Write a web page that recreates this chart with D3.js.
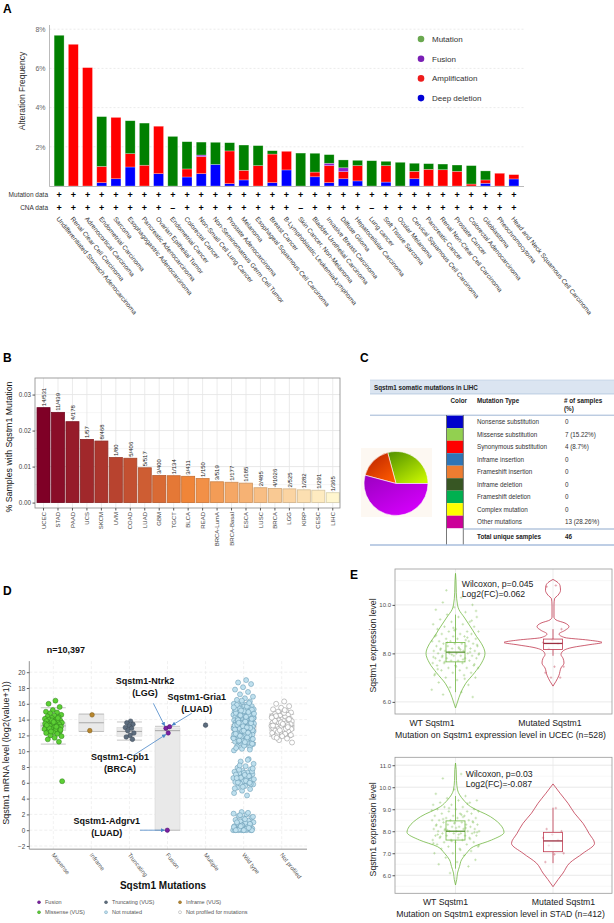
<!DOCTYPE html>
<html>
<head>
<meta charset="utf-8">
<script src="https://cdn.jsdelivr.net/npm/d3@7"></script>
<style>
  body { margin: 0; background: #fff; }
  svg { font-family: "Liberation Sans", Arial, Helvetica, sans-serif; }
</style>
</head>
<body>
<svg id="fig" width="614" height="923"></svg>
<script>
// ---------------- panel A data (alteration frequency, %) ----------------
const cancerTypes = ["Undifferentiated Stomach Adenocarcinoma","Renal Clear Cell Carcinoma","Adrenocortical Carcinoma",
  "Endometrial Carcinoma","Sarcoma","Esophagogastric Adenocarcinoma","Pancreatic Adenocarcinoma","Ovarian Epithelial Tumor",
  "Endometrial Cancer","Colorectal Cancer","Non-Small Cell Lung Cancer","Non-Seminomatous Germ Cell Tumor",
  "Prostate Adenocarcinoma","Melanoma","Esophageal Squamous Cell Carcinoma","Breast Cancer",
  "B-Lymphoblastic Leukemia/Lymphoma","Skin Cancer, Non-Melanoma","Bladder Urothelial Carcinoma",
  "Invasive Breast Carcinoma","Diffuse Glioma","Hepatocellular Carcinoma","Lung cancer","Soft Tissue Sarcoma",
  "Ocular Melanoma","Cervical Squamous Cell Carcinoma","Pancreatic Cancer","Renal Non-Clear Cell Carcinoma",
  "Prostate Cancer","Colorectal Adenocarcinoma","Glioblastoma","Pheochromocytoma","Head and Neck Squamous Cell Carcinoma"];
const deepDeletion = [0,0,0,0.17,0.37,0.97,0,0.63,0,0.46,0.63,1.10,0.12,0.31,0,0.17,0.82,0,0.47,0.17,0.37,0.26,0,0.20,0,0.37,0,0,0,0,0.14,0,0.36];
const amplification = [0,7.23,6.04,0.83,3.13,0.68,1.06,2.42,0,0.41,0.87,0,1.67,0.49,1.04,1.46,0.95,0,0.24,0.87,0.36,0.78,0,0.84,0,0.38,0.85,0.83,0.75,0.10,0.17,0.65,0.22];
const fusionFreq = [0,0,0,0,0,0,0,0,0,0,0.08,0,0,0,0,0,0,0,0,0.12,0.20,0,0,0,0,0,0,0,0,0,0,0,0];
const mutationFreq = [7.69,0,0,2.54,0,1.68,2.15,0,2.53,1.39,0.66,1.13,0.42,1.29,1.02,0.17,0,1.68,0.96,0.44,0.40,0.27,1.29,0.22,1.21,0.41,0.29,0.29,0.32,0.94,0.46,0,0];
const cnaProfiled = [1,1,1,1,1,1,1,1,0,1,1,1,1,1,1,1,1,0,1,1,1,1,0,1,1,1,1,1,1,1,1,1,1];
const freqTicks = [2,4,6,8];
const alterationTypes = ["Mutation","Fusion","Amplification","Deep deletion"];

// ---------------- panel B data ----------------
const tcgaCodes = ["UCEC","STAD","PAAD","UCS","SKCM","UVM","COAD","LUAD","GBM","TGCT","BLCA","READ","BRCA-LumA","BRCA-Basal","ESCA","LUSC","BRCA","LGG","KIRP","CESC","LIHC"];
const mutatedSamples = [14,11,4,1,8,1,5,5,3,1,3,1,3,1,1,2,4,2,1,1,1];
const totalSamples = [531,439,178,57,468,80,406,517,400,134,411,150,519,177,185,485,1026,525,282,291,365];
const fracTicks = [0,0.01,0.02,0.03];

// ---------------- panel C data ----------------
const mutTypes = ["Nonsense substitution","Missense substitution","Synonymous substitution","Inframe insertion",
  "Frameshift insertion","Inframe deletion","Frameshift deletion","Complex mutation","Other mutations"];
const mutTypeCounts = [0,7,4,0,0,0,0,0,13];
const mutTypeShare = ["","15.22%","8.7%","","","","","","28.26%"];
const totalUnique = 46;

// ---------------- panel D data ----------------
const mutCats = ["Missense","Inframe","Truncating","Fusion","Multiple","Wild type","Not profiled"];
const missenseVals = [16.4,16.0,15.6,15.2,15.0,14.9,14.8,14.6,14.5,14.4,14.3,14.2,14.1,14.0,14.0,13.9,13.8,13.8,13.7,13.6,13.6,13.5,13.4,13.4,13.3,13.3,13.2,13.2,13.1,13.0,13.0,12.9,12.8,12.8,12.7,12.6,12.5,12.4,12.3,12.2,12.0,11.9,11.7,11.5,11.2,
  13.9,13.5,13.1,12.9,12.7,13.7,13.3,14.2,12.5,6.2];
const inframeVals = [14.6,12.6];
const truncatingVals = [13.8,13.6,13.4,13.2,13.0,12.9,12.6,12.3,12.0,11.8,11.5];
const fusionVals = [12.3,12.9,13.1,0.0];
const fusionGenes = ["Sqstm1-Cpb1","Sqstm1-Ntrk2","Sqstm1-Gria1","Sqstm1-Adgrv1"];
const fusionCohorts = ["(BRCA)","(LGG)","(LUAD)","(LUAD)"];
const multipleVals = [13.3];
const wildTypeVals = [19.0,18.7,18.5,18.1,17.8,17.5,17.2,16.9,16.7,16.5,
  16.3,16.2,16.0,15.9,15.8,15.7,15.6,15.5,15.5,15.4,15.3,15.3,15.2,15.1,15.0,15.0,14.9,14.9,14.8,14.8,
  14.7,14.7,14.6,14.6,14.5,14.5,14.4,14.4,14.3,14.3,14.2,14.2,14.1,14.1,14.0,14.0,13.9,13.9,13.8,13.8,
  13.7,13.7,13.6,13.6,13.5,13.5,13.4,13.4,13.3,13.3,13.2,13.2,13.1,13.1,13.0,13.0,12.9,12.9,12.8,12.8,
  12.7,12.7,12.6,12.6,12.5,12.5,12.4,12.4,12.3,12.3,12.2,12.2,12.1,12.1,12.0,12.0,11.9,11.8,11.7,11.6,
  11.5,11.4,11.3,11.2,11.1,11.0,10.9,10.8,10.6,10.5,10.3,10.1,
  15.65,15.45,15.25,15.05,14.85,14.65,14.45,14.25,14.05,13.85,13.65,13.45,13.25,13.05,12.85,12.65,12.45,12.25,12.05,11.85,
  11.65,11.45,11.25,11.05,10.85,15.35,14.95,14.55,14.15,13.75,13.35,12.95,12.55,12.15,11.75,11.35,10.95,10.7,10.4,16.1,
  15.15,14.75,14.35,13.95,13.55,13.15,12.75,12.35,11.95,11.55,11.15,15.85,10.2,16.4,15.55,13.0,13.6,14.1,12.6,12.2,
  9.0,8.7,8.4,8.1,7.9,7.7,7.5,7.4,7.3,7.2,7.1,7.0,6.9,6.8,6.7,6.6,6.5,6.4,6.3,6.2,6.1,6.0,5.9,5.8,5.6,5.4,5.2,5.0,4.7,4.4,
  7.65,7.45,7.25,7.05,6.85,6.65,6.45,6.25,6.05,5.85,5.5,5.3,8.9,8.2,7.8,7.0,6.6,6.0,
  2.3,2.1,2.0,1.8,1.6,1.5,1.3,1.2,1.1,1.0,0.9,0.8,0.7,0.6,0.5,0.4,0.3,0.2,0.15,0.1,0.05,0,0,0,0,0,0,0,
  2.2,1.9,1.7,1.4,1.0,0.8,0.6,0.4,0.2,0.1,0,0,0,0.3,0.5];
const notProfiledVals = [16.3,16.0,15.7,15.5,15.3,15.1,15.0,14.9,14.8,14.7,14.6,14.5,14.4,14.3,14.2,14.1,14.0,14.0,13.9,13.9,
  13.8,13.8,13.7,13.7,13.6,13.6,13.5,13.5,13.4,13.4,13.3,13.3,13.2,13.2,13.1,13.1,13.0,13.0,12.9,12.9,
  12.8,12.8,12.7,12.6,12.5,12.4,12.3,12.2,12.1,12.0,11.9,11.8,11.6,11.4,11.1,
  14.85,14.45,14.05,13.65,13.25,12.85,12.45,12.05,13.45,13.85,13.05,12.65,14.25,15.2,11.7];
const boxCats = ["Missense","Inframe","Truncating","Fusion","Wild type","Not profiled"];
const boxLo  = [10.9,12.5,11.4,0,11.1,11.9];
const boxQ1  = [12.6,12.5,11.9,0,12.6,12.6];
const boxMed = [13.2,13.6,12.5,12.6,13.1,13.2];
const boxQ3  = [13.6,14.7,13.0,12.95,13.4,13.6];
const boxHi  = [15.5,14.7,13.7,13.15,15.4,14.7];
const mrnaTicks = [-2,0,2,4,6,8,10,12,14,16,18,20];
const legendD = ["Fusion","Truncating (VUS)","Inframe (VUS)","Missense (VUS)","Not mutated","Not profiled for mutations"];

// ---------------- panel E data ----------------
const exprGroups = ["WT Sqstm1","Mutated Sqstm1"];
// UCEC
const ucecWtLevels  = [5.75,6.0,6.35,6.75,7.2,7.6,8.0,8.4,8.7,9.0,9.5,9.8,10.0,10.5,11.0,11.3];
const ucecWtDensity = [0,0.04,0.10,0.20,0.38,0.52,0.59,0.52,0.42,0.33,0.17,0.07,0.04,0.016,0.01,0];
const ucecMutLevels  = [6.65,6.85,7.1,7.4,7.6,7.8,7.95,8.1,8.25,8.35,8.45,8.55,8.65,8.8,8.95,9.1,9.25,9.38,9.5,10.0,10.25,10.4,10.6,10.8,10.95,11.05];
const ucecMutDensity = [0,0.06,0.12,0.16,0.22,0.20,0.16,0.20,0.40,0.70,0.98,0.70,0.24,0.12,0.24,0.32,0.24,0.06,0.02,0.02,0.03,0.10,0.15,0.14,0.08,0];
const ucecWtPts = [10.3,10.1,10.0,9.9,9.8,9.7,9.6,9.5,9.5,9.4,9.3,9.3,9.2,9.2,9.1,9.1,9.0,9.0,8.9,8.9,8.9,8.8,8.8,8.8,8.7,8.7,8.7,
  8.6,8.6,8.6,8.5,8.5,8.5,8.5,8.4,8.4,8.4,8.4,8.3,8.3,8.3,8.3,8.2,8.2,8.2,8.2,8.1,8.1,8.1,8.1,8.0,8.0,8.0,8.0,8.0,
  7.9,7.9,7.9,7.9,7.8,7.8,7.8,7.8,7.7,7.7,7.7,7.7,7.6,7.6,7.6,7.5,7.5,7.5,7.4,7.4,7.4,7.3,7.3,7.2,7.2,7.1,7.1,7.0,7.0,
  6.9,6.8,6.7,6.6,6.5,6.4,6.3,6.2,
  8.95,8.75,8.55,8.45,8.35,8.25,8.15,8.05,7.95,7.85,7.75,7.65,7.55,7.45,7.35,8.65,8.05,7.95,8.15,7.85,9.35,9.05,7.15,6.95,10.6,9.75];
const ucecMutPts = [10.8,10.75,9.0,8.55,8.45,8.4,8.2,7.45,7.45,7.2,7.0,7.0];
const ucecBox = {wt: [6.4,7.65,8.05,8.45,9.6], mut: [7.9,8.16,8.41,8.59,9.0]};
// STAD
const stadWtLevels  = [5.56,5.8,6.1,6.4,6.7,7.0,7.3,7.6,7.95,8.2,8.66,9.12,9.42,9.88,10.3,10.8,11.1];
const stadWtDensity = [0,0.024,0.04,0.08,0.12,0.22,0.36,0.72,0.97,0.93,0.70,0.30,0.16,0.04,0.02,0.014,0];
const stadMutLevels  = [5.48,5.8,6.1,6.55,7.0,7.45,7.9,8.36,8.82,9.27,9.73,10.0,10.15];
const stadMutDensity = [0,0.10,0.20,0.33,0.60,0.83,0.72,0.60,0.43,0.30,0.14,0.05,0];
const stadWtPts = [10.6,10.4,10.2,9.9,9.7,9.6,9.5,9.4,9.4,9.3,9.3,9.2,9.2,9.1,9.1,9.0,9.0,9.0,8.9,8.9,8.9,8.8,8.8,8.8,8.7,8.7,8.7,
  8.6,8.6,8.6,8.5,8.5,8.5,8.5,8.4,8.4,8.4,8.4,8.3,8.3,8.3,8.3,8.2,8.2,8.2,8.2,8.1,8.1,8.1,8.1,8.0,8.0,8.0,8.0,8.0,
  7.9,7.9,7.9,7.9,7.8,7.8,7.8,7.8,7.7,7.7,7.7,7.6,7.6,7.6,7.5,7.5,7.5,7.4,7.4,7.3,7.3,7.2,7.2,7.1,7.0,7.0,
  6.9,6.8,6.7,6.6,6.5,6.4,6.1,
  8.95,8.75,8.55,8.45,8.35,8.25,8.15,8.05,7.95,7.85,7.75,7.65,7.55,7.45,8.65,8.05,7.95,8.15,7.85,9.25,9.05,7.35,7.15];
const stadMutPts = [9.05,8.1,8.0,7.85,7.7,7.6,7.35,7.0,6.95,6.6];
const stadBox = {wt: [6.3,7.6,8.0,8.47,9.6], mut: [6.55,7.07,7.56,7.95,9.07]};

// ================================================================
const svg = d3.select("#fig");
const defs = svg.append("defs");

// deterministic jitter spread (layout only)
const jitter = (i, w) => (((i + 1) * 0.6180339887) % 1 - 0.5) * 2 * w;

function txt(g, x, y, s, size, o = {}) {
  const t = g.append("text").attr("x", x).attr("y", y).attr("font-size", size).attr("fill", o.fill || "#222").text(s);
  if (o.anchor) t.attr("text-anchor", o.anchor);
  if (o.bold) t.attr("font-weight", "bold");
  return t;
}

// panel letters
[["A",3,13],["B",3,362],["C",360,362],["D",3,595],["E",350,579]].forEach(d =>
  txt(svg, d[1], d[2], d[0], 12, {bold: true, fill: "#000"}));

// ---------------- Panel A ----------------
const gA = svg.append("g");
const xA = d3.scaleBand().domain(cancerTypes).range([52, 521]).paddingInner(0.3).paddingOuter(0.15);
const yA = d3.scaleLinear().domain([0, 8]).range([186, 29.2]);

gA.selectAll("line.grid").data(freqTicks).join("line")
  .attr("x1", 49.5).attr("x2", 524).attr("y1", d => yA(d)).attr("y2", d => yA(d))
  .attr("stroke", "#e2e2e2").attr("stroke-width", 0.7).attr("stroke-dasharray", "2,2");

const axA = gA.append("g").attr("transform", "translate(49.5,0)")
  .call(d3.axisLeft(yA).tickValues(freqTicks).tickFormat(d => d + "%").tickSize(0).tickPadding(4));
axA.select(".domain").remove();
axA.selectAll("text").attr("font-size", 7).attr("fill", "#666").attr("font-family", null);

const rowsA = cancerTypes.map((c, i) => ({type: c, deep: deepDeletion[i], amp: amplification[i], fus: fusionFreq[i], mut: mutationFreq[i]}));
const seriesA = d3.stack().keys(["deep","amp","fus","mut"])(rowsA);
const colA = {deep: "#0000ff", amp: "#ff0000", fus: "#8d1fd1", mut: "#008000"};
gA.selectAll("g.layer").data(seriesA).join("g").attr("fill", d => colA[d.key])
  .selectAll("rect").data(d => d.filter(s => s[1] - s[0] > 0)).join("rect")
  .attr("x", d => xA(d.data.type)).attr("width", xA.bandwidth())
  .attr("y", d => yA(d[1])).attr("height", d => yA(d[0]) - yA(d[1]))
  .attr("stroke", "rgba(255,255,255,0.45)").attr("stroke-width", 0.6);

gA.append("line").attr("x1", 49.5).attr("x2", 49.5).attr("y1", 25).attr("y2", 186.5).attr("stroke", "#aaa").attr("stroke-width", 0.8);
gA.append("line").attr("x1", 49.5).attr("x2", 524).attr("y1", 186.5).attr("y2", 186.5).attr("stroke", "#aaa").attr("stroke-width", 0.8);

txt(gA, 0, 0, "Alteration Frequency", 8.5, {anchor: "middle", fill: "#333"}).attr("transform", "translate(25,91) rotate(-90)");

txt(gA, 48, 196.5, "Mutation data", 6.5, {anchor: "end", fill: "#333"});
txt(gA, 48, 210, "CNA data", 6.5, {anchor: "end", fill: "#333"});
gA.selectAll("text.mp").data(cancerTypes).join("text").attr("class", "mp")
  .attr("x", d => xA(d) + xA.bandwidth() / 2).attr("y", 197.5).attr("text-anchor", "middle")
  .attr("font-size", 9).attr("font-weight", "bold").text("+");
gA.selectAll("text.cp").data(cancerTypes).join("text").attr("class", "cp")
  .attr("x", d => xA(d) + xA.bandwidth() / 2).attr("y", 211).attr("text-anchor", "middle")
  .attr("font-size", 9).attr("font-weight", "bold").text((d, i) => cnaProfiled[i] ? "+" : "\u2013");

gA.selectAll("text.cat").data(cancerTypes).join("text").attr("class", "cat")
  .attr("transform", d => `translate(${xA(d) + xA.bandwidth() / 2 - 3},219) rotate(51)`)
  .attr("font-size", 6.5).attr("fill", "#333").text(d => d);

const legColA = ["#6aa84f","#7a1fb5","#ee1c1c","#0000d6"];
alterationTypes.forEach((t, i) => {
  const y = 39 + i * 19.7;
  gA.append("circle").attr("cx", 421).attr("cy", y).attr("r", 3.3).attr("fill", legColA[i]);
  txt(gA, 432, y + 2.8, t, 8, {fill: "#333"});
});

// ---------------- Panel B ----------------
const gB = svg.append("g");
const xB = d3.scaleBand().domain(tcgaCodes).range([36.3, 340]).paddingInner(0.1).paddingOuter(0.05);
const yB = d3.scaleLinear().domain([-0.0015, 0.0346]).range([508, 378]);
const fracB = mutatedSamples.map((m, i) => m / totalSamples[i]);
const colB = d3.scaleLinear().domain([0, 10, 20]).range(["#7f0026", "#f08538", "#fff6cf"]);

gB.selectAll("line.minor").data([0.005, 0.015, 0.025]).join("line")
  .attr("x1", 35).attr("x2", 340).attr("y1", d => yB(d)).attr("y2", d => yB(d)).attr("stroke", "#f0f0f0").attr("stroke-width", 0.6);
gB.selectAll("line.major").data(fracTicks).join("line")
  .attr("x1", 35).attr("x2", 340).attr("y1", d => yB(d)).attr("y2", d => yB(d)).attr("stroke", "#e3e3e3").attr("stroke-width", 0.8);
gB.selectAll("line.vg").data(tcgaCodes).join("line")
  .attr("x1", d => xB(d) + xB.bandwidth() / 2).attr("x2", d => xB(d) + xB.bandwidth() / 2)
  .attr("y1", 378).attr("y2", 508).attr("stroke", "#e6e6e6").attr("stroke-width", 0.8);

gB.selectAll("rect.bar").data(tcgaCodes).join("rect").attr("class", "bar")
  .attr("x", d => xB(d)).attr("width", xB.bandwidth())
  .attr("y", (d, i) => yB(fracB[i])).attr("height", (d, i) => yB(0) - yB(fracB[i]))
  .attr("fill", (d, i) => colB(i)).attr("stroke", (d, i) => d3.color(colB(i)).darker(0.5)).attr("stroke-width", 0.8);

gB.selectAll("text.val").data(tcgaCodes).join("text").attr("class", "val")
  .attr("transform", (d, i) => `translate(${xB(d) + xB.bandwidth() / 2 + 2.2},${yB(fracB[i]) - 1.5}) rotate(-90)`)
  .attr("font-size", 6).attr("fill", "#222").text((d, i) => mutatedSamples[i] + "/" + totalSamples[i]);

gB.append("rect").attr("x", 35).attr("y", 378).attr("width", 305).attr("height", 130)
  .attr("fill", "none").attr("stroke", "#888").attr("stroke-width", 0.8);

const axB = gB.append("g").attr("transform", "translate(35,0)")
  .call(d3.axisLeft(yB).tickValues(fracTicks).tickFormat(d3.format(".2f")).tickSize(2.5).tickPadding(1.5));
axB.select(".domain").remove();
axB.selectAll("line").attr("stroke", "#555");
axB.selectAll("text").attr("font-size", 6.3).attr("fill", "#444").attr("font-family", null);

const axBx = gB.append("g").attr("transform", "translate(0,508)")
  .call(d3.axisBottom(xB).tickSize(2.5).tickPadding(1.5));
axBx.select(".domain").remove();
axBx.selectAll("line").attr("stroke", "#555");
axBx.selectAll("text").attr("font-size", 6).attr("fill", "#444").attr("font-family", null)
  .attr("transform", "rotate(-90)").attr("text-anchor", "end").attr("x", -4).attr("y", 0).attr("dy", "0.35em");

txt(gB, 0, 0, "% Samples with Sqstm1 Mutation", 8.8, {anchor: "middle", fill: "#111"}).attr("transform", "translate(11.5,447) rotate(-90)");

// ---------------- Panel C ----------------
const gC = svg.append("g");
const swatchColors = ["#0000cc","#92d050","#ff0000","#2e75b6","#ed7d31","#375623","#00b050","#ffff00","#cc0099"];
gC.append("rect").attr("x", 370).attr("y", 380).attr("width", 244).attr("height", 14).attr("fill", "#dbe5f1");
gC.append("line").attr("x1", 370).attr("x2", 614).attr("y1", 380).attr("y2", 380).attr("stroke", "#b8c9e0").attr("stroke-width", 0.6);
gC.append("line").attr("x1", 370).attr("x2", 614).attr("y1", 394).attr("y2", 394).attr("stroke", "#9fb6d4").attr("stroke-width", 0.6);
txt(gC, 374, 390, "Sqstm1 somatic mutations in LIHC", 6.3, {bold: true});
txt(gC, 450.5, 403, "Color", 6.3, {bold: true});
txt(gC, 477, 403, "Mutation Type", 6.3, {bold: true});
txt(gC, 564, 403, "# of samples", 6.3, {bold: true});
txt(gC, 564, 411, "(%)", 6.3, {bold: true});
gC.append("line").attr("x1", 370).attr("x2", 614).attr("y1", 415.2).attr("y2", 415.2).attr("stroke", "#9fb6d4").attr("stroke-width", 1);

const rowH = 12.5, row0 = 415.7;
const yRow = d3.scaleBand().domain(mutTypes).range([row0, row0 + rowH * mutTypes.length]);
gC.selectAll("rect.sw").data(mutTypes).join("rect").attr("class", "sw")
  .attr("x", 446.7).attr("y", d => yRow(d)).attr("width", 16.6).attr("height", yRow.bandwidth())
  .attr("fill", (d, i) => swatchColors[i]);
gC.selectAll("text.mt").data(mutTypes).join("text").attr("class", "mt")
  .attr("x", 477).attr("y", d => yRow(d) + rowH / 2 + 2.2).attr("font-size", 6.3).attr("fill", "#333").text(d => d);
gC.selectAll("text.mc").data(mutTypes).join("text").attr("class", "mc")
  .attr("x", 565).attr("y", d => yRow(d) + rowH / 2 + 2.2).attr("font-size", 6.3).attr("fill", "#333")
  .text((d, i) => mutTypeCounts[i] + (mutTypeShare[i] ? " (" + mutTypeShare[i] + ")" : ""));
gC.append("line").attr("x1", 446.5).attr("x2", 446.5).attr("y1", 415).attr("y2", 545).attr("stroke", "#555").attr("stroke-width", 0.8);
gC.append("line").attr("x1", 463.3).attr("x2", 463.3).attr("y1", 415).attr("y2", 545).attr("stroke", "#555").attr("stroke-width", 0.8);
gC.append("line").attr("x1", 463.3).attr("x2", 614).attr("y1", 529).attr("y2", 529).attr("stroke", "#8fa9cc").attr("stroke-width", 1);
txt(gC, 477, 538.5, "Total unique samples", 6.3, {bold: true});
txt(gC, 565, 538.5, String(totalUnique), 6.3, {bold: true});
gC.append("line").attr("x1", 370).attr("x2", 614).attr("y1", 545).attr("y2", 545).attr("stroke", "#a9bedc").attr("stroke-width", 1.4);

// pie
gC.append("rect").attr("x", 361).attr("y", 448).attr("width", 71).attr("height", 69).attr("fill", "#fdf8f2");
const pieGrad = [["gMis","#4f8f00","#c8f500"],["gSyn","#b52000","#ff5a00"],["gOth","#9a00c0","#d800ff"]];
pieGrad.forEach(g => {
  const lg = defs.append("linearGradient").attr("id", g[0]).attr("x1", 0).attr("y1", 0).attr("x2", 0.8).attr("y2", 1);
  lg.append("stop").attr("offset", "0%").attr("stop-color", g[1]);
  lg.append("stop").attr("offset", "100%").attr("stop-color", g[2]);
});
const pieFill = {"Missense substitution": "url(#gMis)", "Synonymous substitution": "url(#gSyn)", "Other mutations": "url(#gOth)"};
const pieData = mutTypes.map((t, i) => ({t, n: mutTypeCounts[i]})).filter(d => d.n > 0);
const pie = d3.pie().value(d => d.n).sort(null).startAngle(Math.PI / 2).endAngle(Math.PI / 2 - 2 * Math.PI);
const arcC = d3.arc().innerRadius(0).outerRadius(32);
gC.append("g").attr("transform", "translate(396,483.5)").selectAll("path").data(pie(pieData)).join("path")
  .attr("d", arcC).attr("fill", d => pieFill[d.data.t]).attr("stroke", "#fff").attr("stroke-width", 0.6);

// ---------------- Panel D ----------------
const gD = svg.append("g");
const yD = d3.scaleLinear().domain([-2, 20]).range([846, 672.2]);
const xD = d3.scalePoint().domain(mutCats).range([53.3, 281.7]);
const dTop = yD(21.4), dBot = yD(-2.4), dL = 29.3, dR = 307;

gD.selectAll("line.hg").data(mrnaTicks).join("line")
  .attr("x1", dL).attr("x2", dR).attr("y1", d => yD(d)).attr("y2", d => yD(d))
  .attr("stroke", "#e4e4e4").attr("stroke-width", 0.6).attr("stroke-dasharray", "3,2");
gD.selectAll("line.vg").data(mutCats).join("line")
  .attr("x1", d => xD(d)).attr("x2", d => xD(d)).attr("y1", dTop).attr("y2", dBot)
  .attr("stroke", "#e8e8e8").attr("stroke-width", 0.6).attr("stroke-dasharray", "3,2");

const boxW = 25;
boxCats.forEach((c, i) => {
  const cx = xD(c);
  gD.append("line").attr("x1", cx).attr("x2", cx).attr("y1", yD(boxLo[i])).attr("y2", yD(boxHi[i])).attr("stroke", "#cfcfcf").attr("stroke-width", 0.8);
  gD.append("rect").attr("x", cx - boxW / 2).attr("width", boxW).attr("y", yD(boxQ3[i])).attr("height", yD(boxQ1[i]) - yD(boxQ3[i]))
    .attr("fill", "#e9e9e9").attr("stroke", "#d6d6d6").attr("stroke-width", 0.6);
  [boxLo[i], boxHi[i]].forEach(v => gD.append("line").attr("x1", cx - boxW / 2).attr("x2", cx + boxW / 2)
    .attr("y1", yD(v)).attr("y2", yD(v)).attr("stroke", "#b5b5b5").attr("stroke-width", 0.8));
  gD.append("line").attr("x1", cx - boxW / 2).attr("x2", cx + boxW / 2).attr("y1", yD(boxMed[i])).attr("y2", yD(boxMed[i]))
    .attr("stroke", "#a8a8a8").attr("stroke-width", 1);
});

const ptStyle = {
  "Missense": {vals: missenseVals, fill: "#5cd034", stroke: "#2f7a1c", r: 2.5, w: 9},
  "Inframe": {vals: inframeVals, fill: "#b8862e", stroke: "#7a5a1a", r: 2.3, w: 3},
  "Truncating": {vals: truncatingVals, fill: "#5d6d7e", stroke: "#3a4654", r: 2.3, w: 5},
  "Fusion": {vals: fusionVals, fill: "#7b1fa2", stroke: "#4a0f66", r: 2.2, w: 3},
  "Multiple": {vals: multipleVals, fill: "#5d6d7e", stroke: "#3a4654", r: 2.3, w: 0},
  "Wild type": {vals: wildTypeVals, fill: "#bfe0ee", stroke: "#5f93ad", r: 2.5, w: 10.5},
  "Not profiled": {vals: notProfiledVals, fill: "#ffffff", stroke: "#8a8a8a", r: 2.5, w: 10.5}
};
const fusionPts = [];
mutCats.forEach(c => {
  const s = ptStyle[c];
  gD.append("g").selectAll("circle").data(s.vals).join("circle")
    .attr("cx", (d, i) => xD(c) + jitter(i, s.w)).attr("cy", d => yD(d)).attr("r", s.r)
    .attr("fill", s.fill).attr("stroke", s.stroke).attr("stroke-width", 0.5);
  if (c === "Fusion") s.vals.forEach((d, i) => fusionPts.push([xD(c) + jitter(i, s.w), yD(d)]));
});

// fusion call-outs (label anchor and arrow start are layout)
const fusionLabelPos = [[120, 759.5], [145, 683.5], [196.7, 699.5], [106.7, 824]];
const fusionArrowFrom = [[133.3, 755.5], [153.3, 703.3], [191.7, 713.3], [140, 830.2]];
defs.append("marker").attr("id", "arr").attr("viewBox", "0 0 10 10").attr("refX", 9).attr("refY", 5)
  .attr("markerWidth", 5).attr("markerHeight", 5).attr("orient", "auto")
  .append("path").attr("d", "M0,0L10,5L0,10z").attr("fill", "#4a86c8");
fusionGenes.forEach((g, i) => {
  const [px, py] = fusionPts[i];
  const [sx, sy] = fusionArrowFrom[i];
  const dx = px - sx, dy = py - sy, L = Math.hypot(dx, dy);
  gD.append("line").attr("x1", sx).attr("y1", sy).attr("x2", px - dx / L * 2.8).attr("y2", py - dy / L * 2.8)
    .attr("stroke", "#4a86c8").attr("stroke-width", 0.8).attr("marker-end", "url(#arr)");
  txt(gD, fusionLabelPos[i][0], fusionLabelPos[i][1], g, 9, {anchor: "middle", bold: true, fill: "#111"});
  txt(gD, fusionLabelPos[i][0], fusionLabelPos[i][1] + 12, fusionCohorts[i], 9, {anchor: "middle", bold: true, fill: "#111"});
});

gD.append("line").attr("x1", dL).attr("x2", dL).attr("y1", dTop).attr("y2", dBot).attr("stroke", "#777").attr("stroke-width", 0.8);
gD.append("line").attr("x1", dL).attr("x2", dR).attr("y1", dBot).attr("y2", dBot).attr("stroke", "#777").attr("stroke-width", 0.8);
const axD = gD.append("g").attr("transform", `translate(${dL},0)`)
  .call(d3.axisLeft(yD).tickValues(mrnaTicks).tickSize(2.5).tickPadding(1.5));
axD.select(".domain").remove();
axD.selectAll("line").attr("stroke", "#666");
axD.selectAll("text").attr("font-size", 6.3).attr("fill", "#444").attr("font-family", null);

gD.selectAll("text.xc").data(mutCats).join("text").attr("class", "xc")
  .attr("transform", d => `translate(${xD(d) - 2},855) rotate(52)`)
  .attr("font-size", 6).attr("fill", "#555").text(d => d);

txt(gD, 46.7, 653, "n=10,397", 9, {bold: true, fill: "#111"});
txt(gD, 163, 889, "Sqstm1 Mutations", 10, {anchor: "middle", bold: true, fill: "#111"});
txt(gD, 0, 0, "Sqstm1 mRNA level (log2(value+1))", 9, {anchor: "middle", fill: "#222"}).attr("transform", "translate(9,753) rotate(-90)");

const legStyleD = ["Fusion","Truncating","Inframe","Missense","Wild type","Not profiled"];
legendD.forEach((t, i) => {
  const col = i % 3, row = Math.floor(i / 3);
  const x = [39, 106, 180][col], y = 904 + row * 10;
  const s = ptStyle[legStyleD[i]];
  gD.append("circle").attr("cx", x).attr("cy", y - 1.8).attr("r", 1.5).attr("fill", s.fill).attr("stroke", s.stroke).attr("stroke-width", 0.4);
  txt(gD, x + 6, y, t, 5.5, {fill: "#555"});
});

// ---------------- Panel E ----------------
const wE = d3.scaleLinear().domain([0, 1]).range([0, 50]);
const xE = d3.scalePoint().domain(exprGroups).range([455.5, 553]);
const colE = {"WT Sqstm1": "#72b843", "Mutated Sqstm1": "#c0394f"};

function drawExpr(p) {
  const g = svg.append("g");
  const y = d3.scaleLinear().domain(p.yDomain).range([p.bottom, p.top]);
  const L = 395, R = 612;
  g.selectAll("line.mn").data(p.minor).join("line")
    .attr("x1", L).attr("x2", R).attr("y1", d => y(d)).attr("y2", d => y(d)).attr("stroke", "#f1f1f1").attr("stroke-width", 0.6);
  g.selectAll("line.mj").data(p.major).join("line")
    .attr("x1", L).attr("x2", R).attr("y1", d => y(d)).attr("y2", d => y(d)).attr("stroke", "#e3e3e3").attr("stroke-width", 0.8);
  g.selectAll("line.vx").data(exprGroups).join("line")
    .attr("x1", d => xE(d)).attr("x2", d => xE(d)).attr("y1", p.top).attr("y2", p.bottom).attr("stroke", "#e8e8e8").attr("stroke-width", 0.8);

  p.sets.forEach(s => {
    const cx = xE(s.group), col = colE[s.group];
    const prof = s.levels.map((l, i) => [l, s.density[i]]);
    const area = d3.area().curve(d3.curveMonotoneY)
      .y(d => y(d[0])).x0(d => cx - wE(d[1])).x1(d => cx + wE(d[1]));
    g.append("path").attr("d", area(prof)).attr("fill", "none").attr("stroke", col).attr("stroke-width", 0.8);
    g.append("g").selectAll("path").data(s.pts).join("path")
      .attr("transform", (d, i) => `translate(${cx + jitter(i, s.jw)},${y(d)})`)
      .attr("d", "M-1.3,0H1.3M0,-1.3V1.3").attr("stroke", col).attr("stroke-width", 0.6).attr("opacity", 0.55);
    const [lo, q1, md, q3, hi] = s.box;
    g.append("line").attr("x1", cx).attr("x2", cx).attr("y1", y(lo)).attr("y2", y(q1)).attr("stroke", col).attr("stroke-width", 0.8);
    g.append("line").attr("x1", cx).attr("x2", cx).attr("y1", y(q3)).attr("y2", y(hi)).attr("stroke", col).attr("stroke-width", 0.8);
    g.append("rect").attr("x", cx - 9.5).attr("width", 19).attr("y", y(q3)).attr("height", y(q1) - y(q3))
      .attr("fill", s.group === "WT Sqstm1" ? "none" : "rgba(255,255,255,0.6)").attr("stroke", col).attr("stroke-width", 0.8);
    g.append("line").attr("x1", cx - 9.5).attr("x2", cx + 9.5).attr("y1", y(md)).attr("y2", y(md))
      .attr("stroke", d3.color(col).darker(0.6)).attr("stroke-width", 1.3);
  });

  g.append("rect").attr("x", L).attr("y", p.top).attr("width", R - L).attr("height", p.bottom - p.top)
    .attr("fill", "none").attr("stroke", "#999").attr("stroke-width", 0.8);
  const ax = g.append("g").attr("transform", `translate(${L},0)`)
    .call(d3.axisLeft(y).tickValues(p.ticks).tickSize(2.5).tickPadding(1.5));
  ax.select(".domain").remove();
  ax.selectAll("line").attr("stroke", "#555");
  ax.selectAll("text").attr("font-size", 6).attr("fill", "#4d4d4d").attr("font-family", null);

  exprGroups.forEach((gr, i) => txt(g, xE(gr) + p.labelShift[i], p.bottom + 11.5, gr, 8.7, {anchor: "middle"}));
  txt(g, 500.5, p.bottom + 24, p.title, 8.7, {anchor: "middle"});
  txt(g, 0, 0, "Sqstm1 expression level", 8.7, {anchor: "middle"})
    .attr("transform", `translate(376,${(p.top + p.bottom) / 2 + 4}) rotate(-90)`);
  p.note.forEach((n, i) => txt(g, p.noteX, p.noteY + i * 10.7, n, 8.7));
}

drawExpr({
  yDomain: [5.5, 11.48], top: 569, bottom: 714,
  major: [6, 8, 10], minor: [7, 9, 11], ticks: [6, 8, 10],
  labelShift: [-23.5, -3],
  title: "Mutation on Sqstm1 expression level in UCEC (n=528)",
  note: ["Wilcoxon, p=0.045", "Log2(FC)=0.062"], noteX: 461.7, noteY: 586.5,
  sets: [
    {group: "WT Sqstm1", levels: ucecWtLevels, density: ucecWtDensity, pts: ucecWtPts, jw: 24, box: ucecBox.wt},
    {group: "Mutated Sqstm1", levels: ucecMutLevels, density: ucecMutDensity, pts: ucecMutPts, jw: 12, box: ucecBox.mut}
  ]
});
drawExpr({
  yDomain: [5.18, 11.36], top: 757.3, bottom: 893.3,
  major: [6, 7, 8, 9, 10, 11], minor: [5.5, 6.5, 7.5, 8.5, 9.5, 10.5], ticks: [6, 7, 8, 9, 10, 11],
  labelShift: [-10, 10.5],
  title: "Mutation on Sqstm1 expression level in STAD (n=412)",
  note: ["Wilcoxon, p=0.03", "Log2(FC)=-0.087"], noteX: 465.7, noteY: 776.5,
  sets: [
    {group: "WT Sqstm1", levels: stadWtLevels, density: stadWtDensity, pts: stadWtPts, jw: 24, box: stadBox.wt},
    {group: "Mutated Sqstm1", levels: stadMutLevels, density: stadMutDensity, pts: stadMutPts, jw: 12, box: stadBox.mut}
  ]
});
</script>
</body>
</html>
